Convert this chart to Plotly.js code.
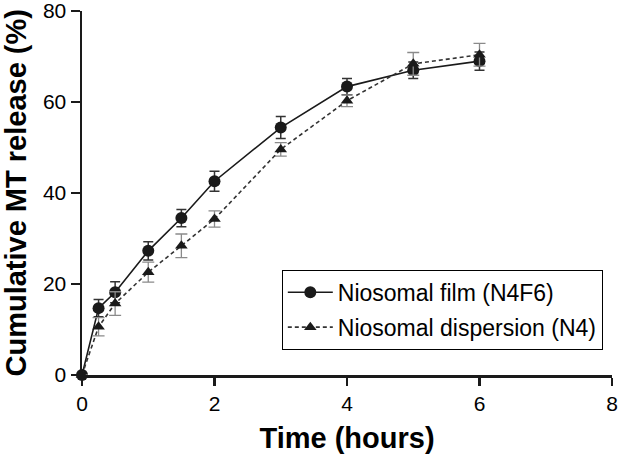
<!DOCTYPE html>
<html>
<head>
<meta charset="utf-8">
<script src="https://cdn.plot.ly/plotly-3.0.1.min.js"></script>
<style>html,body{margin:0;padding:0;background:#fff;}#chart{width:618px;height:455px;}</style>
</head>
<body>
<div id="chart"></div>
<script>
var timeHours = [0, 0.25, 0.5, 1, 1.5, 2, 3, 4, 5, 6];
var filmRelease = [0, 14.7, 18.2, 27.3, 34.5, 42.6, 54.4, 63.4, 67.0, 69.0];
var filmError = [0, 1.9, 2.3, 2.0, 1.9, 2.2, 2.4, 1.8, 1.8, 2.0];
var dispersionRelease = [0, 10.6, 15.7, 22.6, 28.4, 34.3, 49.6, 60.3, 68.4, 70.4];
var dispersionError = [0, 2.0, 2.6, 2.2, 2.6, 1.8, 1.5, 1.3, 2.5, 2.5];
var seriesNames = ['Niosomal film (N4F6)', 'Niosomal dispersion (N4)'];
var xTicks = [0, 2, 4, 6, 8];
var yTicks = [0, 20, 40, 60, 80];
var xTitle = 'Time (hours)';
var yTitle = 'Cumulative MT release (%)';

var font = 'Arial, "Liberation Sans", Helvetica, sans-serif';

var traces = [
  {
    x: timeHours, y: filmRelease, name: seriesNames[0], legendgroup: 'g1',
    type: 'scatter', mode: 'lines+markers', cliponaxis: false,
    line: {color: '#1a1a1a', width: 1.6, dash: 'solid'},
    marker: {symbol: 'circle', size: 12, color: '#1a1a1a'},
    error_y: {type: 'data', array: filmError, visible: true, color: '#333333', thickness: 1.5, width: 5}
  },
  {
    x: timeHours, y: dispersionRelease, name: seriesNames[1], legendgroup: 'g2',
    type: 'scatter', mode: 'lines+markers', cliponaxis: false,
    line: {color: '#333333', width: 1.6, dash: '4px,3px'},
    marker: {symbol: 'triangle-up', size: 11, color: '#1a1a1a'},
    error_y: {type: 'data', array: dispersionError, visible: true, color: '#8a8a8a', thickness: 1.3, width: 6}
  }
];

var plotL = 82, plotR = 6, plotT = 11, plotB = 80;
var plotW = 618 - plotL - plotR;

var layout = {
  width: 618, height: 455,
  margin: {l: plotL, r: plotR, t: plotT, b: plotB},
  paper_bgcolor: '#ffffff', plot_bgcolor: '#ffffff',
  font: {family: font, color: '#000000'},
  showlegend: true,
  legend: {
    x: 0.377, y: 0.289, xanchor: 'left', yanchor: 'top',
    bordercolor: '#000000', borderwidth: 1, bgcolor: '#ffffff',
    font: {family: font, size: 23, color: '#000000'},
    tracegroupgap: 2, itemwidth: 45
  },
  xaxis: {
    range: [0, 8], tickvals: xTicks, ticktext: xTicks.map(String),
    showgrid: false, zeroline: false,
    showline: true, linecolor: '#1a1a1a', linewidth: 2.5,
    ticks: 'outside', ticklen: 8, tickwidth: 2.5, tickcolor: '#1a1a1a',
    ticklabeloverflow: 'allow',
    tickfont: {family: font, size: 21, color: '#000000'},
    title: {text: '<b>' + xTitle + '</b>', font: {family: font, size: 29, color: '#000000'}, standoff: 14}
  },
  yaxis: {
    range: [0, 80.02], tickvals: yTicks, ticktext: yTicks.map(String),
    showgrid: false, zeroline: false,
    showline: true, linecolor: '#1a1a1a', linewidth: 2.5,
    ticks: 'outside', ticklen: 9, tickwidth: 2.5, tickcolor: '#1a1a1a',
    ticklabeloverflow: 'allow',
    tickfont: {family: font, size: 21, color: '#000000'}
  },
  annotations: [{
    text: '<b>' + yTitle + '</b>', textangle: -90,
    xref: 'paper', yref: 'paper', x: (15.5 - plotL) / plotW, y: 0.5,
    xanchor: 'center', yanchor: 'middle', showarrow: false,
    font: {family: font, size: 29, color: '#000000'}
  }]
};

Plotly.newPlot('chart', traces, layout, {displayModeBar: false, staticPlot: true});
</script>
</body>
</html>
